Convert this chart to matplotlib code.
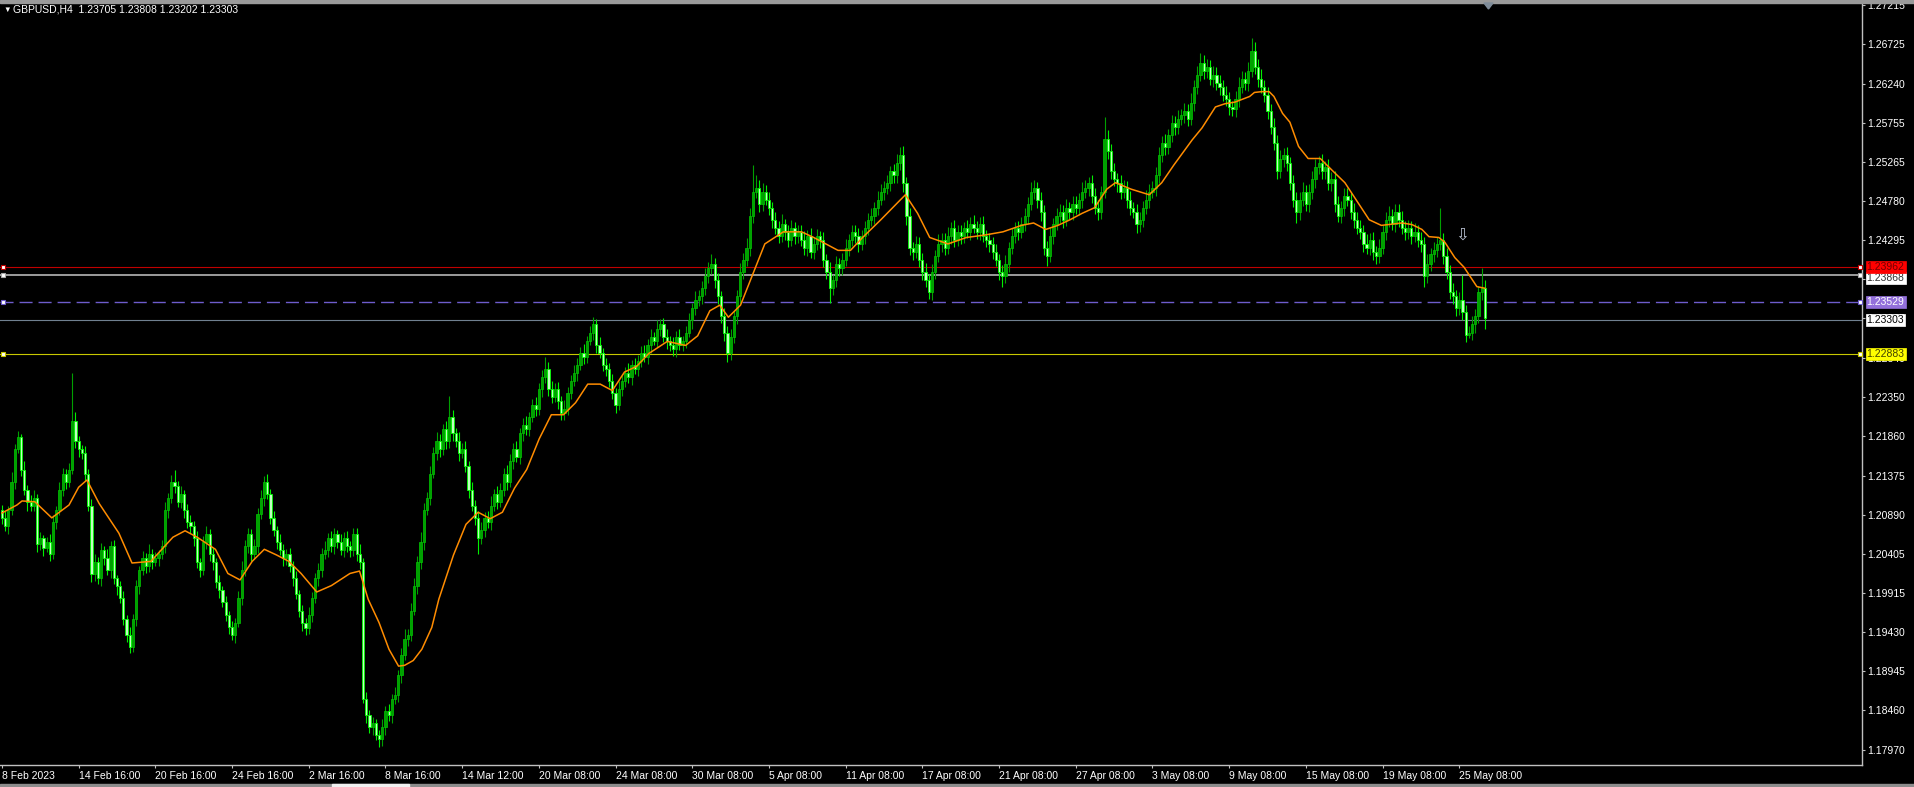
import numpy as np
import matplotlib
matplotlib.use("Agg")
import matplotlib.pyplot as plt
from matplotlib.patches import Rectangle, Polygon

plt.rcParams['font.family'] = ['Liberation Sans', 'DejaVu Sans']

# GBPUSD H4, prices stored as pips above 1.17000
base_price = 1.17
first_open = 395
close_pips = [
    385, 375, 395, 430, 470, 485, 445, 420, 405, 400,
    410, 352, 360, 348, 355, 340, 380, 395, 420, 440,
    430, 445, 505, 480, 470, 465, 440, 400, 315, 330,
    310, 345, 335, 320, 350, 310, 300, 285, 260, 240,
    225, 260, 300, 320, 335, 325, 340, 330, 335, 340,
    350, 395, 410, 430, 425, 405, 415, 395, 380, 375,
    360, 330, 320, 355, 365, 340, 330, 305, 295, 280,
    265, 250, 240, 255, 285, 320, 350, 365, 340, 350,
    390, 410, 430, 415, 385, 370, 355, 345, 335, 340,
    325, 310, 290, 270, 255, 248, 265, 285, 310, 320,
    340, 345, 360, 350, 365, 355, 345, 360, 350, 345,
    365, 340, 330, 160, 140, 125, 130, 115, 110, 125,
    145, 140, 160, 165, 190, 215, 235, 240, 270, 300,
    330, 355, 395, 410, 440, 465, 480, 470, 495, 480,
    510, 490, 480, 465, 470, 450, 420, 400, 385, 360,
    370, 385, 380, 400, 415, 405, 420, 440, 430, 455,
    470, 460, 490, 500, 495, 510, 525, 520, 545, 560,
    570, 545, 535, 545, 530, 515, 520, 540, 555, 565,
    575, 590, 585, 605, 615, 625, 600, 590, 575, 570,
    555, 540, 525, 545, 555, 565, 560, 575, 570, 580,
    590, 585, 600, 610, 605, 620, 625, 610, 605, 600,
    595, 610, 600, 605, 615, 630, 645, 655, 660, 670,
    685, 695, 700, 680, 660, 635, 615, 590, 610, 635,
    660, 690, 705, 720, 760, 790, 795, 775, 790, 780,
    770, 755, 745, 735, 750, 740, 730, 745, 735, 740,
    730, 720, 735, 715, 725, 735, 730, 705, 690, 670,
    680, 700, 695, 705, 720, 730, 740, 735, 725, 735,
    745, 755, 760, 770, 780, 790, 795, 800, 815, 810,
    825, 835, 800, 760, 720, 715, 725, 705, 690, 680,
    665, 690, 710, 725, 730, 720, 735, 745, 730, 740,
    735, 745, 740, 750, 745, 740, 750, 735, 730, 725,
    715, 705, 690, 685, 700, 720, 735, 745, 740, 750,
    760, 775, 790, 795, 780, 765, 720, 710, 735, 750,
    760, 765, 755, 770, 765, 775, 770, 780, 790, 795,
    800, 785, 770, 765, 790, 855, 840, 815, 805, 800,
    790, 795, 780, 770, 765, 750, 755, 770, 780, 790,
    795, 810, 835, 850, 845, 860, 875, 870, 880, 885,
    890, 880, 900, 920, 935, 950, 940, 945, 930, 935,
    925, 920, 910, 905, 895, 892, 905, 920, 930, 925,
    940, 965, 945, 930, 920, 910, 890, 870, 850, 815,
    830, 835, 825, 800, 780, 765, 780, 790, 775, 790,
    805, 820, 825, 815, 820, 800, 805, 775, 760, 770,
    785, 780, 765, 755, 745, 740, 725, 720, 730, 715,
    710, 720, 740, 755, 760, 750, 765, 755, 745, 740,
    745, 735, 740, 730, 725, 685, 700, 712, 718, 725,
    730, 710, 690, 665, 660, 645, 655, 640, 612, 615,
    625, 635, 665, 670, 633,
]
upper_wick = [
    6, 9, 5, 12, 7, 8, 4, 10, 6, 8,
    9, 5, 7, 4, 6, 10, 8, 5, 9, 7,
    6, 8, 60, 12, 7, 5, 9, 6, 8, 10,
    7, 9, 5, 11, 6, 8, 4, 7, 9, 5,
    10, 6, 8, 5, 9, 7, 12, 6, 8, 5,
    7, 10, 6, 8, 15, 6, 9, 5, 7, 8,
    6, 9, 5, 8, 10, 6, 7, 5, 9, 6,
    8, 5, 7, 6, 9, 11, 7, 8, 6, 9,
    7, 10, 7, 9, 6, 8, 5, 10, 7, 6,
    8, 6, 9, 5, 7, 6, 10, 8, 6, 9,
    7, 11, 6, 9, 8, 5, 10, 7, 9, 6,
    8, 7, 12, 5, 9, 6, 8, 5, 7, 10,
    6, 9, 7, 10, 6, 8, 12, 7, 9, 10,
    8, 12, 9, 7, 10, 8, 11, 9, 7, 10,
    26, 9, 7, 11, 8, 10, 6, 9, 7, 8,
    10, 7, 9, 12, 6, 10, 8, 7, 11, 9,
    8, 10, 7, 9, 12, 6, 8, 10, 7, 9,
    15, 8, 10, 7, 9, 6, 11, 8, 7, 10,
    9, 7, 11, 6, 8, 9, 7, 10, 6, 8,
    7, 9, 6, 10, 8, 7, 12, 6, 9, 7,
    8, 10, 7, 9, 6, 11, 7, 8, 10, 6,
    9, 7, 10, 6, 8, 9, 7, 11, 8, 9,
    10, 8, 12, 7, 9, 6, 10, 8, 9, 7,
    8, 11, 9, 12, 10, 33, 15, 9, 11, 8,
    10, 7, 9, 8, 12, 6, 9, 10, 7, 8,
    9, 11, 7, 10, 8, 9, 6, 10, 8, 12,
    7, 10, 8, 9, 11, 7, 9, 8, 10, 7,
    9, 8, 10, 7, 11, 9, 8, 10, 7, 9,
    11, 10, 12, 8, 9, 7, 10, 8, 9, 11,
    8, 10, 7, 12, 9, 8, 11, 7, 10, 8,
    9, 7, 10, 8, 11, 9, 8, 10, 7, 9,
    8, 10, 7, 9, 11, 8, 10, 7, 9, 8,
    10, 8, 12, 9, 7, 10, 8, 9, 11, 7,
    9, 10, 8, 11, 7, 9, 10, 8, 12, 9,
    8, 11, 9, 10, 7, 27, 12, 9, 10, 8,
    10, 9, 8, 11, 7, 9, 10, 8, 12, 9,
    8, 11, 10, 9, 12, 8, 10, 9, 11, 8,
    10, 9, 12, 8, 11, 12, 9, 10, 8, 11,
    9, 10, 8, 11, 9, 7, 10, 12, 9, 8,
    11, 15, 10, 9, 12, 8, 10, 9, 11, 10,
    12, 9, 10, 8, 11, 9, 10, 12, 8, 9,
    10, 11, 9, 12, 8, 10, 9, 11, 10, 8,
    9, 10, 8, 11, 9, 10, 8, 12, 9, 10,
    8, 11, 9, 10, 12, 8, 10, 9, 11, 8,
    10, 9, 11, 8, 10, 9, 12, 8, 10, 9,
    40, 8, 10, 9, 11, 8, 10, 31, 9, 8,
    10, 9, 8, 25, 10,
]
lower_wick = [
    8, 6, 10, 7, 9, 5, 8, 6, 11, 7,
    6, 9, 7, 10, 5, 8, 6, 9, 7, 8,
    9, 7, 6, 8, 10, 7, 9, 6, 10, 8,
    7, 10, 8, 6, 9, 7, 11, 6, 8, 9,
    8, 7, 9, 10, 6, 8, 7, 9, 5, 10,
    6, 8, 10, 7, 9, 6, 8, 10, 7, 9,
    10, 7, 8, 6, 9, 8, 10, 7, 9, 6,
    8, 9, 7, 10, 6, 8, 7, 9, 8, 6,
    9, 7, 10, 6, 8, 7, 9, 6, 10, 8,
    7, 9, 6, 8, 10, 8, 7, 9, 6, 10,
    8, 6, 9, 7, 10, 8, 6, 9, 7, 8,
    7, 9, 8, 5, 10, 7, 9, 6, 9, 8,
    10, 7, 9, 6, 8, 10, 7, 9, 8, 6,
    9, 8, 10, 7, 9, 6, 8, 10, 7, 9,
    8, 10, 7, 9, 6, 8, 10, 7, 9, 20,
    7, 9, 8, 10, 6, 9, 7, 8, 10, 7,
    9, 6, 8, 10, 7, 9, 6, 8, 7, 10,
    8, 9, 7, 6, 10, 8, 9, 7, 8, 6,
    10, 7, 9, 8, 6, 9, 10, 7, 8, 9,
    7, 8, 10, 6, 9, 7, 8, 10, 6, 9,
    8, 7, 9, 10, 6, 8, 9, 7, 10, 8,
    9, 10, 7, 8, 9, 6, 10, 8, 7, 9,
    8, 9, 7, 10, 9, 8, 10, 12, 9, 8,
    10, 8, 9, 7, 10, 9, 8, 10, 9, 7,
    9, 10, 8, 9, 7, 10, 9, 8, 10, 9,
    8, 9, 10, 7, 9, 8, 10, 9, 8, 18,
    9, 8, 10, 9, 7, 10, 8, 9, 10, 8,
    10, 9, 8, 10, 9, 7, 10, 8, 9, 10,
    9, 8, 10, 12, 9, 10, 8, 9, 10, 9,
    8, 10, 9, 8, 10, 9, 7, 10, 9, 8,
    10, 9, 8, 10, 7, 9, 10, 8, 9, 10,
    9, 8, 10, 13, 9, 10, 8, 9, 10, 8,
    9, 10, 8, 9, 10, 11, 9, 12, 8, 10,
    8, 9, 10, 8, 9, 10, 8, 9, 10, 8,
    10, 9, 8, 10, 9, 8, 10, 9, 8, 10,
    9, 8, 10, 9, 8, 12, 10, 9, 8, 10,
    8, 10, 9, 8, 10, 9, 8, 10, 9, 8,
    10, 9, 8, 10, 9, 8, 10, 9, 8, 10,
    9, 10, 8, 9, 10, 8, 9, 10, 8, 9,
    10, 8, 9, 10, 8, 9, 10, 8, 9, 10,
    8, 9, 10, 8, 9, 14, 10, 8, 9, 10,
    9, 10, 8, 9, 10, 8, 9, 10, 8, 9,
    10, 8, 9, 10, 8, 9, 10, 8, 9, 10,
    10, 9, 8, 10, 9, 8, 10, 9, 8, 10,
    9, 10, 8, 9, 10, 13, 9, 8, 10, 9,
    8, 10, 9, 8, 10, 9, 8, 10, 9, 4,
    9, 10, 8, 9, 13,
]

# moving average (orange), read as (bar, pips) points
ma_bars = [0, 4.7, 6.3, 10.3, 15.6, 21, 24, 26.6, 30.4, 36.6, 40.7, 46.6, 53.5, 57.3,
           61.1, 66.8, 70.7, 74.5, 78.3, 82.1, 85.9, 89.8, 93.6, 98.5, 103.1, 108.9,
           111.9, 114.6, 118, 121.1, 124.1, 126, 128.7, 131.4, 134.5, 136.7, 141.3,
           145.2, 149, 152.8, 156.6, 160.4, 164.2, 168.1, 171.9, 175.7, 179.5, 183.3,
           187.2, 191, 194.8, 198.6, 202.4, 208.2, 213.9, 217.7, 221.5, 224.6, 227.3,
           231.1, 234.9, 238.7, 244.5, 250.2, 254, 257.8, 261.6, 265.5, 269.3, 275,
           280.7, 282.7, 286.5, 290.3, 296, 301.8, 307.5, 313.2, 319, 322.8, 326.6,
           330.4, 334.2, 338, 341.9, 345.7, 348.4, 353.3, 359, 362.9, 366.7, 372.4,
           375.5, 379.7, 382.7, 385.8, 390.4, 391.9, 394.2, 396.5, 398, 400.7, 403,
           405.7, 408.7, 412.5, 416.3, 420.2, 424, 427.8, 431.6, 438.1, 441.2, 444.3,
           446.5, 449.6, 451.5, 454.6, 457.5, 460, 461.5, 464]
ma_pips = [391, 401, 406, 405, 385, 401, 423, 432, 403, 366, 329, 331, 361, 369,
           361, 346, 316, 308, 331, 346, 339, 331, 316, 293, 301, 316,
           319, 284, 255, 222, 201, 202, 208, 222, 249, 284, 339,
           377, 392, 384, 392, 422, 445, 483, 513, 513, 528, 551,
           551, 543, 566, 573, 589, 604, 599, 611, 642, 649, 634,
           649, 687, 725, 740, 740, 733, 725, 717, 717, 733, 755,
           778, 786, 763, 733, 725, 733, 736, 740, 748, 751, 743,
           748, 755, 763, 770, 793, 801, 793, 786, 801, 823, 854,
           869, 895, 899, 901, 908, 913, 914, 914, 908, 887, 876,
           846, 831, 831, 816, 801, 778, 755, 748, 751, 749, 743,
           734, 733, 727, 708, 696, 681, 672, 670]

ytick_vals = [1.27215, 1.26725, 1.26240, 1.25755, 1.25265, 1.24780, 1.24295, 1.23810,
              1.23325, 1.22840, 1.22350, 1.21860, 1.21375, 1.20890, 1.20405, 1.19915,
              1.19430, 1.18945, 1.18460, 1.17970]
xtick_bars = [0, 24, 48, 72, 96, 120, 144, 168, 192, 216, 240, 264, 288, 312, 336,
              360, 384, 408, 432, 456]
xtick_labels = ["8 Feb 2023", "14 Feb 16:00", "20 Feb 16:00", "24 Feb 16:00",
                "2 Mar 16:00", "8 Mar 16:00", "14 Mar 12:00", "20 Mar 08:00",
                "24 Mar 08:00", "30 Mar 08:00", "5 Apr 08:00", "11 Apr 08:00",
                "17 Apr 08:00", "21 Apr 08:00", "27 Apr 08:00", "3 May 08:00",
                "9 May 08:00", "15 May 08:00", "19 May 08:00", "25 May 08:00"]

# horizontal levels: price, line colour, style, label face, label text colour
levels = [
    (1.23868, '#a8a8a8', '-', '#ffffff', '#303030'),
    (1.23962, '#c00000', '-', '#ff0000', '#700000'),
    (1.23529, '#6e5ccc', '--', '#9370db', '#ffffff'),
    (1.23303, '#708090', '-', '#ffffff', '#000000'),
    (1.22883, '#c8c800', '-', '#ffff00', '#404000'),
]
header = "GBPUSD,H4  1.23705 1.23808 1.23202 1.23303"

W, H = 1914, 787
fig = plt.figure(figsize=(W / 100, H / 100), dpi=100, facecolor='black')
ax = fig.add_axes([0, 22 / H, 1862 / W, (765 - 3) / H])
ax.set_facecolor('black')

c = base_price + np.array(close_pips) / 10000
o = np.r_[base_price + first_open / 10000, c[:-1]]
hi = np.maximum(o, c) + np.array(upper_wick) / 10000
lo = np.minimum(o, c) - np.array(lower_wick) / 10000
x = np.arange(len(c))
bull = c >= o
bear = ~bull

ax.vlines(x[bull], lo[bull], hi[bull], color='#00a000', lw=0.8, zorder=2)
ax.vlines(x[bear], lo[bear], hi[bear], color='#00f000', lw=0.8, zorder=2)
ax.bar(x[bull], (c - o)[bull], bottom=o[bull], width=0.7, facecolor='#00a000',
       edgecolor='#00c800', linewidth=0.5, zorder=3)
ax.bar(x[bear], (o - c)[bear], bottom=c[bear], width=0.7, facecolor='#c0ffc0',
       edgecolor='#00ff00', linewidth=0.6, zorder=3)

ax.plot(ma_bars, base_price + np.array(ma_pips) / 10000, color='#ff8c00', lw=1.1, zorder=4)

yax = ax.get_yaxis_transform()
for k, (price, lc, ls, fc, tc) in enumerate(levels):
    if ls == '--':
        ax.axhline(price, color=lc, lw=1.0, ls=(0, (9.4, 4.3)), zorder=1)
    elif price == 1.23868:
        ax.axhline(price, color=lc, lw=1.3, zorder=1)
    else:
        ax.axhline(price, color=lc, lw=0.8, zorder=1)
    # the white label is pushed a few pixels down by the red one above it
    label_y = price - 0.00040 if price == 1.23868 else price
    ax.text(1.0025, label_y, f"{price:.5f}", transform=yax, fontsize=7.5, color=tc,
            va='center', ha='left', clip_on=False, zorder=6 + k,
            bbox=dict(boxstyle='square,pad=0.1', fc=fc, ec=fc, lw=0.5))
    if price != 1.23303:
        for xs in (0.0015, 0.999):
            ax.plot([xs], [price], marker='s', ms=3, mfc='white', mec=lc, mew=0.8,
                    transform=yax, clip_on=False, zorder=12)

ax.text(457, 1.2437, '\u21e9', fontsize=12, color='#b8c0d0', ha='center', va='center',
        family=['DejaVu Sans'], zorder=5)

ax.set_xlim(-0.6, 582)
ax.set_ylim(1.17783, 1.27240)
ax.yaxis.tick_right()
ax.set_yticks(ytick_vals)
ax.set_yticklabels([f"{v:.5f}" for v in ytick_vals])
ax.set_xticks(xtick_bars)
ax.set_xticklabels(xtick_labels, ha='left')
ax.tick_params(axis='both', colors='#c0c0c0', labelcolor='white', labelsize=7.5,
               length=2.5, width=0.8, direction='out', pad=1.5)
for side in ('top', 'left'):
    ax.spines[side].set_visible(False)
for side in ('right', 'bottom'):
    ax.spines[side].set_color('#c0c0c0')
    ax.spines[side].set_linewidth(1)

# window frame bits
fig.add_artist(Rectangle((0, 1 - 3 / H), 1, 3 / H, transform=fig.transFigure,
                         color='#9a9a9a', zorder=10))
fig.add_artist(Rectangle((0, 0), 1, 3 / H, transform=fig.transFigure,
                         color='#8c8c8c', zorder=10))
fig.add_artist(Rectangle((332 / W, 0), 77 / W, 3 / H, transform=fig.transFigure,
                         color='#f0f0f0', zorder=11))
fig.add_artist(Polygon([[1484 / W, 1 - 3 / H], [1493 / W, 1 - 3 / H], [1488.5 / W, 1 - 9 / H]],
                       closed=True, transform=fig.transFigure, color='#7f8c99', zorder=11))

fig.text(3 / W, 1 - 10 / H, '\u25bc', fontsize=5.5, color='white', va='center', ha='left')
fig.text(13 / W, 1 - 10 / H, header, fontsize=7.5, color='white', va='center', ha='left')

fig.savefig('out.png', dpi=100, facecolor='black')
